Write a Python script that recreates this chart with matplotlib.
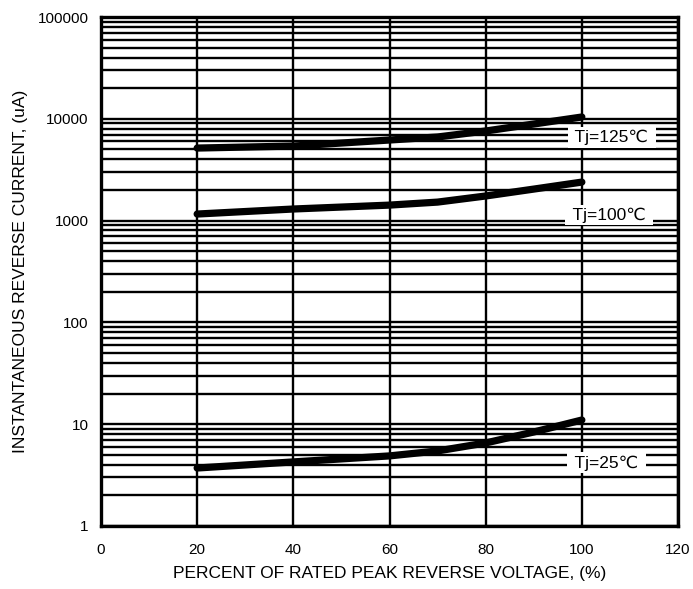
import numpy as np
import matplotlib.pyplot as plt

plt.rcParams['font.family'] = ['Liberation Sans', 'DejaVu Sans']

# percent of rated peak reverse voltage
percent = [20, 40, 60, 70, 80, 90, 100]

# reverse current in uA for each junction temperature
current_125 = [5160, 5400, 6190, 6630, 7590, 8890, 10420]
current_100 = [1160, 1300, 1420, 1520, 1745, 2040, 2390]
current_25 = [3.71, 4.26, 4.88, 5.46, 6.54, 8.38, 10.99]

y_ticks = [1, 10, 100, 1000, 10000, 100000]
y_tick_labels = ["1", "10", "100", "1000", "10000", "100000"]
x_ticks = [0, 20, 40, 60, 80, 100, 120]

fig = plt.figure(figsize=(6.93, 5.89), dpi=100)
ax = fig.add_axes([0.1457, 0.1070, 0.8327, 0.8641])

ax.set_yscale('log')
ax.set_xlim(0, 120)
ax.set_ylim(1, 100000)

ax.set_xticks(x_ticks)
ax.set_yticks(y_ticks)
ax.set_yticklabels(y_tick_labels)
ax.tick_params(axis='both', which='both', length=0, labelsize=11, pad=9)
ax.tick_params(axis='x', pad=12)
ax.grid(True, which='minor', axis='y', color='black', linewidth=1.7)
ax.grid(True, which='major', color='black', linewidth=1.7)
for s in ax.spines.values():
    s.set_linewidth(2.4)

# the curves
for cur in [current_125, current_100, current_25]:
    ax.plot(percent, cur, color='black', linewidth=5.2, solid_capstyle='round', zorder=3)

box = dict(facecolor='white', edgecolor='none', pad=2)
ax.text(106.2, 6600, " Tj=125\u2103 ", fontsize=12.5, ha='center', va='center', bbox=box, zorder=4)
ax.text(105.7, 1135, " Tj=100\u2103 ", fontsize=12.5, ha='center', va='center', bbox=box, zorder=4)
ax.text(105.1, 4.16, " Tj=25\u2103 ", fontsize=12.5, ha='center', va='center', bbox=box, zorder=4)

ax.set_xlabel("PERCENT OF RATED PEAK REVERSE VOLTAGE, (%)", fontsize=12.5, labelpad=7)
ax.set_ylabel("INSTANTANEOUS REVERSE CURRENT, (uA)", fontsize=12.5, labelpad=7)

fig.savefig("out.png", dpi=100)
